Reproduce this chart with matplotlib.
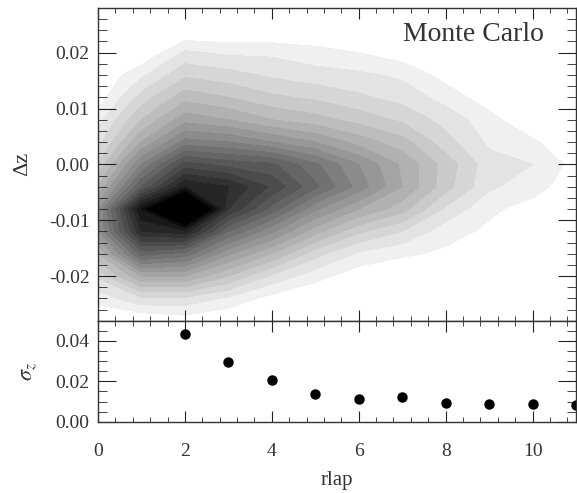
import numpy as np
import matplotlib
matplotlib.use('Agg')
import matplotlib.pyplot as plt
from matplotlib.ticker import MultipleLocator, AutoMinorLocator, FormatStrFormatter

plt.rcParams['font.family'] = ['Liberation Serif', 'DejaVu Serif']
plt.rcParams['mathtext.fontset'] = 'stix'

# grid of the Monte Carlo density (rlap columns, dz rows from top to bottom)
rlap_grid = [0, 1, 2, 3, 4, 5, 6, 7, 8, 9, 10, 11]
dz_grid = [0.028, 0.024, 0.020, 0.016, 0.012, 0.008, 0.004, 0.000,
           -0.004, -0.008, -0.012, -0.016, -0.020, -0.024, -0.028]
density = [
    [0, 0, 0, 0, 0, 0, 0, 0, 0, 0, 0, 0],
    [0, 0, 0, 0, 0, 0, 0, 0, 0, 0, 0, 0],
    [0, 0, 0.11, 0.09, 0.09, 0.07, 0.05, 0.02, 0, 0, 0, 0],
    [0, 0.09, 0.19, 0.17, 0.14, 0.12, 0.11, 0.09, 0.03, 0, 0, 0],
    [0.02, 0.17, 0.28, 0.25, 0.21, 0.19, 0.16, 0.13, 0.08, 0.02, 0, 0],
    [0.08, 0.25, 0.38, 0.35, 0.30, 0.27, 0.23, 0.19, 0.13, 0.07, 0, 0],
    [0.13, 0.35, 0.52, 0.50, 0.45, 0.40, 0.33, 0.27, 0.17, 0.09, 0.06, 0],
    [0.20, 0.50, 0.72, 0.68, 0.66, 0.56, 0.45, 0.34, 0.23, 0.12, 0.10, 0.03],
    [0.30, 0.65, 0.90, 0.85, 0.74, 0.61, 0.48, 0.35, 0.22, 0.11, 0.07, 0.02],
    [0.44, 0.95, 1.30, 0.80, 0.63, 0.46, 0.35, 0.27, 0.14, 0.06, 0.03, 0],
    [0.44, 0.85, 0.88, 0.60, 0.46, 0.32, 0.21, 0.15, 0.07, 0.04, 0, 0],
    [0.29, 0.62, 0.58, 0.41, 0.30, 0.17, 0.09, 0.06, 0.04, 0, 0, 0],
    [0.16, 0.35, 0.35, 0.25, 0.14, 0.07, 0.02, 0, 0, 0, 0, 0],
    [0.07, 0.14, 0.14, 0.09, 0.03, 0, 0, 0, 0, 0, 0, 0],
    [0, 0, 0.02, 0, 0, 0, 0, 0, 0, 0, 0, 0],
]

# scatter of sigma_z against rlap
rlap_pts = [2, 3, 4, 5, 6, 7, 8, 9, 10, 11]
sigma_z = [0.0432, 0.0295, 0.0204, 0.0139, 0.0112, 0.0120, 0.0095, 0.0087, 0.0087, 0.0082]

fig = plt.figure(figsize=(5.77, 4.93), dpi=100)
ax1 = fig.add_axes([0.1698, 0.3495, 0.8285, 0.6343])
ax2 = fig.add_axes([0.1698, 0.1446, 0.8285, 0.2049], sharex=ax1)

# filled contours, 20 gray bands from light gray to black
levels = list(np.arange(0.05, 1.0001, 0.05)) + [1.5]
greys = [str(round(0.94 * (1 - k / 19), 3)) for k in range(20)]
ax1.contourf(rlap_grid, dz_grid, density, levels=levels, colors=greys)

ax1.text(0.785, 0.895, 'Monte Carlo', transform=ax1.transAxes, fontsize=20,
         color='#333333', ha='center', va='baseline')

ax2.plot(rlap_pts, sigma_z, 'o', color='black', markersize=6.5, clip_on=True)

ax1.set_xlim(0, 11)
ax1.set_ylim(-0.028, 0.028)
ax2.set_ylim(0, 0.05)

ax1.xaxis.set_major_locator(MultipleLocator(2))
ax1.xaxis.set_minor_locator(AutoMinorLocator(5))
ax1.yaxis.set_major_locator(MultipleLocator(0.01))
ax1.yaxis.set_minor_locator(AutoMinorLocator(5))
ax2.yaxis.set_major_locator(MultipleLocator(0.02))
ax2.yaxis.set_minor_locator(AutoMinorLocator(4))
ax1.yaxis.set_major_formatter(FormatStrFormatter('%.2f'))
ax2.yaxis.set_major_formatter(FormatStrFormatter('%.2f'))
ax2.xaxis.set_major_formatter(FormatStrFormatter('%d'))

for ax in (ax1, ax2):
    ax.tick_params(which='both', direction='in', top=True, right=True,
                   color='#222222', labelcolor='#333333', labelsize=14)
    ax.tick_params(axis='y', which='major', length=13, pad=6)
    ax.tick_params(axis='y', which='minor', length=6.5)
    ax.tick_params(axis='x', which='major', length=8, pad=15)
    ax.tick_params(axis='x', which='minor', length=3.6)
    for spine in ax.spines.values():
        spine.set_color('#333333')
        spine.set_linewidth(1.0)
ax1.tick_params(labelbottom=False)

ax1.set_ylabel('Δz', fontsize=16, color='#333333', labelpad=12)
ax2.set_ylabel(r'$\sigma_z$', fontsize=16, color='#333333', labelpad=12)
ax2.set_xlabel('rlap', fontsize=15, color='#333333', labelpad=8)

plt.savefig('out.png', dpi=100)
